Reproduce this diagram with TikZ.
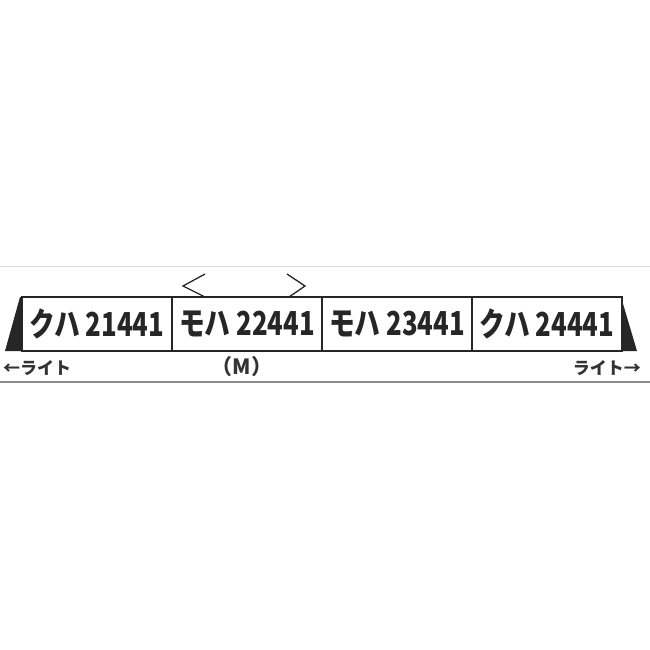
\documentclass[tikz,border=0pt]{standalone}
\usepackage{fontspec}
\newfontfamily\jpfont{Noto Sans CJK JP}
\usetikzlibrary{calc}

\tikzset{
  car/.style={draw=black!85, line width=1.4pt, minimum width=150pt, minimum height=54pt,
    inner sep=0pt, outer sep=0pt, font=\jpfont\bfseries\fontsize{33}{33}\selectfont, text=black!85},
  light/.style={font=\jpfont\bfseries\fontsize{17}{17}\selectfont, inner sep=0pt, text=black!80}
}
\newcommand{\carname}[1]{\scalebox{0.78}[1]{#1}}

\begin{document}
\begin{tikzpicture}[x=1pt,y=-1pt]
		\useasboundingbox (0,0) rectangle (650,650);
		
		% rails above and below the set
		\draw[black!15, line width=1pt] (0,266) -- (650,266);
		\draw[black!45, line width=2.5pt] (0,382) -- (650,382);
		
		% the four cars
		\node[car] (c1) at (97,324) {\carname{クハ 21441}};
		\node[car] (c2) at (247,324) {\carname{モハ 22441}};
		\node[car] (c3) at (397,324) {\carname{モハ 23441}};
		\node[car] (c4) at (547,324) {\carname{クハ 24441}};
		
		% cab ends
		\fill[black!85] (c1.north west) -- +(-2,0) -- ($(c1.south west)+(-17,0)$) -- (c1.south west) -- cycle;
		\fill[black!85] (c4.north east) -- +(-1,0) -- ($(c4.south east)+(15,0)$) -- (c4.south east) -- cycle;
		
		% pantograph
		\draw[black!85, line width=1.3pt] (205,274) -- (183,286) -- (c2.north -| 205,0);
		\draw[black!85, line width=1.3pt] (287,274) -- (305,286) -- (c2.north -| 289,0);
		
		% labels below
		\node[light, anchor=west] (hl) at (3,368) {←ライト};
		\node[light, anchor=east] (hr) at (641,368) {ライト→};
		\node[light, font=\jpfont\bfseries\fontsize{21}{21}\selectfont] (mot) at (242,367) {（M）};
	\end{tikzpicture}
\end{document}
